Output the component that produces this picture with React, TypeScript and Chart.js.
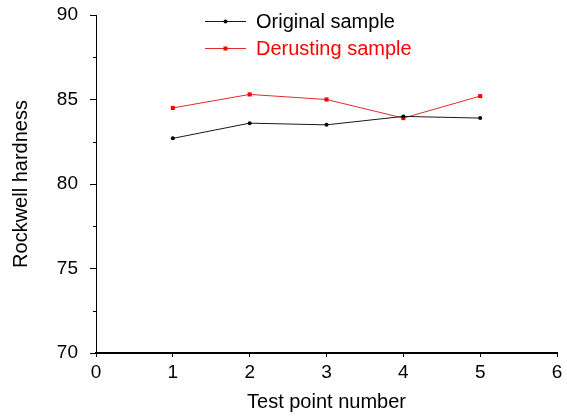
import React, { useEffect, useRef } from "react";
import { Chart, registerables } from "chart.js";

Chart.register(...registerables);

const testPoints = [1, 2, 3, 4, 5];
const originalSample = [82.7, 83.6, 83.5, 84.0, 83.9];
const derustingSample = [84.5, 85.3, 85.0, 83.9, 85.2];
const seriesNames = ["Original sample", "Derusting sample"];
const yMinorTicks = [72.5, 77.5, 82.5, 87.5];
const xTitle = "Test point number";
const yTitle = "Rockwell hardness";

const FONT = "'Liberation Sans', Arial, sans-serif";
const BLACK_LINE = "#1a1a1a";
const RED_LINE = "#e32b2b";

const decorPlugin = {
  id: "decor",
  afterDraw(chart: any) {
    const { ctx, scales } = chart;
    const x = scales.x;
    const y = scales.y;
    ctx.save();
    ctx.strokeStyle = "#000";
    ctx.lineWidth = 1;
    yMinorTicks.forEach((v) => {
      const py = Math.round(y.getPixelForValue(v)) + 0.5;
      ctx.beginPath();
      ctx.moveTo(x.left - 3, py);
      ctx.lineTo(x.left, py);
      ctx.stroke();
    });

    // legend
    const rows = [
      { name: seriesNames[0], color: BLACK_LINE, text: "#000", y: 21.5, style: "circle" },
      { name: seriesNames[1], color: RED_LINE, text: "#ff0000", y: 48.5, style: "rect" },
    ];
    const x0 = 205;
    const x1 = 246;
    const xm = (x0 + x1) / 2;
    rows.forEach((r) => {
      ctx.strokeStyle = r.color;
      ctx.lineWidth = 1;
      ctx.beginPath();
      ctx.moveTo(x0, r.y);
      ctx.lineTo(x1, r.y);
      ctx.stroke();
      ctx.fillStyle = r.style === "rect" ? "#ff0000" : "#000";
      if (r.style === "rect") {
        ctx.fillRect(xm - 2, r.y - 2, 4, 4);
      } else {
        ctx.beginPath();
        ctx.arc(xm, r.y, 2, 0, Math.PI * 2);
        ctx.fill();
      }
      ctx.fillStyle = r.text;
      ctx.font = `20px ${FONT}`;
      ctx.textBaseline = "middle";
      ctx.textAlign = "left";
      ctx.fillText(r.name, 256, r.y + 1);
    });
    ctx.restore();
  },
};

export default function App() {
  const canvasRef = useRef<HTMLCanvasElement | null>(null);

  useEffect(() => {
    if (!canvasRef.current) return;
    const chart = new Chart(canvasRef.current, {
      type: "line",
      data: {
        datasets: [
          {
            label: seriesNames[0],
            data: testPoints.map((t, i) => ({ x: t, y: originalSample[i] })),
            borderColor: BLACK_LINE,
            backgroundColor: "#000",
            borderWidth: 1,
            pointStyle: "circle",
            pointRadius: 2,
            pointBorderWidth: 0,
            tension: 0,
          },
          {
            label: seriesNames[1],
            data: testPoints.map((t, i) => ({ x: t, y: derustingSample[i] })),
            borderColor: RED_LINE,
            backgroundColor: "#ff0000",
            borderWidth: 1,
            pointStyle: "rect",
            pointRadius: 2.9,
            pointBorderWidth: 0,
            tension: 0,
          },
        ],
      },
      options: {
        animation: false,
        responsive: true,
        maintainAspectRatio: false,
        layout: { padding: { top: 15, right: 10, left: 0, bottom: 0 } },
        plugins: {
          legend: { display: false },
          tooltip: { enabled: false },
        },
        scales: {
          x: {
            type: "linear",
            min: 0,
            max: 6,
            afterFit: (s: any) => {
              s.height = 65;
              s.paddingLeft = 0;
              s.paddingRight = 0;
            },
            ticks: {
              stepSize: 1,
              color: "#000",
              padding: 4,
              font: { family: FONT, size: 19 },
            },
            grid: {
              display: true,
              drawOnChartArea: false,
              drawTicks: true,
              tickLength: 4,
              tickColor: "#000",
              color: "#000",
            },
            border: { display: true, color: "#000", width: 2 },
            title: {
              display: true,
              text: xTitle,
              color: "#000",
              font: { family: FONT, size: 20 },
              padding: { top: 0, bottom: 4 },
            },
          },
          y: {
            type: "linear",
            min: 70,
            max: 90,
            afterFit: (s: any) => {
              s.width = 96;
              s.paddingTop = 0;
              s.paddingBottom = 0;
            },
            ticks: {
              stepSize: 5,
              color: "#000",
              padding: 12,
              font: { family: FONT, size: 19 },
            },
            grid: {
              display: true,
              drawOnChartArea: false,
              drawTicks: true,
              tickLength: 6,
              tickColor: "#000",
              color: "#000",
            },
            border: { display: true, color: "#000", width: 1 },
            title: {
              display: true,
              text: yTitle,
              color: "#000",
              font: { family: FONT, size: 20 },
              padding: { top: 9, bottom: 0 },
            },
          },
        },
      },
      plugins: [decorPlugin],
    } as any);
    return () => chart.destroy();
  }, []);

  return (
    <div style={{ position: "fixed", left: 0, top: 0, width: 567, height: 418, background: "#fff" }}>
      <canvas ref={canvasRef} />
    </div>
  );
}
